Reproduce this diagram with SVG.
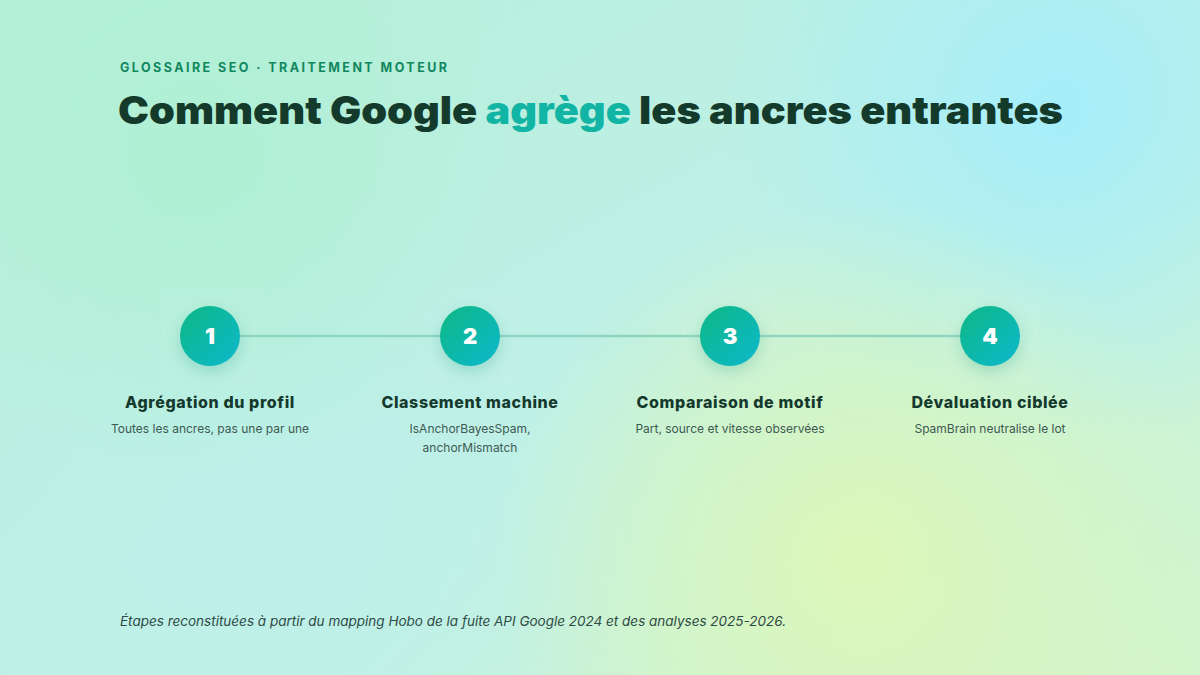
<svg xmlns="http://www.w3.org/2000/svg" width="1200" height="675" viewBox="0 0 1200 675">
<defs>
<linearGradient id="bg" x1="0" y1="0" x2="1" y2="1">
<stop offset="0" stop-color="#b4efd9"/>
<stop offset="0.5" stop-color="#bff0e6"/>
<stop offset="1" stop-color="#d4f5cc"/>
</linearGradient>
<radialGradient id="blobC" cx="1060" cy="110" r="340" gradientUnits="userSpaceOnUse">
<stop offset="0" stop-color="#a6eefa" stop-opacity="1"/>
<stop offset="1" stop-color="#a6eefa" stop-opacity="0"/>
</radialGradient>
<radialGradient id="blobY" cx="860" cy="560" r="360" gradientUnits="userSpaceOnUse">
<stop offset="0" stop-color="#dcf7b8" stop-opacity="1"/>
<stop offset="1" stop-color="#dcf7b8" stop-opacity="0"/>
</radialGradient>
<radialGradient id="blobG" cx="200" cy="160" r="320" gradientUnits="userSpaceOnUse">
<stop offset="0" stop-color="#b0f0d4" stop-opacity="1"/>
<stop offset="1" stop-color="#b0f0d4" stop-opacity="0"/>
</radialGradient>
<radialGradient id="blobL" cx="300" cy="560" r="380" gradientUnits="userSpaceOnUse">
<stop offset="0" stop-color="#bdf0ea" stop-opacity="1"/>
<stop offset="1" stop-color="#bdf0ea" stop-opacity="0"/>
</radialGradient>
<linearGradient id="disc" x1="0" y1="0" x2="1" y2="1">
<stop offset="0" stop-color="#10b883"/>
<stop offset="1" stop-color="#0cb8ce"/>
</linearGradient>
<filter id="shadow" x="-80%" y="-80%" width="260%" height="260%">
<feGaussianBlur in="SourceAlpha" stdDeviation="8"/>
<feOffset dy="6" result="b"/>
<feFlood flood-color="#0f8a6a" flood-opacity="0.22"/>
<feComposite in2="b" operator="in"/>
<feMerge><feMergeNode/><feMergeNode in="SourceGraphic"/></feMerge>
</filter>
<style>
.eyebrow{font-family:"Inter","Liberation Sans",sans-serif;font-weight:700;font-size:12.5px;letter-spacing:2.45px;fill:#11875e}
.title{font-family:"Inter","Liberation Sans",sans-serif;font-weight:900;font-size:38px;fill:#143a2c}
.accent{fill:#12b5a4}
.num{font-family:"Inter","Liberation Sans",sans-serif;font-weight:900;font-size:22px;fill:#ffffff;text-anchor:middle}
.st{font-family:"Inter","Liberation Sans",sans-serif;font-weight:800;font-size:16px;letter-spacing:0.6px;fill:#153a2d;text-anchor:middle}
.sd{font-family:"Inter","Liberation Sans",sans-serif;font-size:12px;fill:#3e5a52;text-anchor:middle}
.foot{font-family:"Inter","Liberation Sans",sans-serif;font-style:italic;font-size:13.5px;fill:#2f4b45}
.soft{fill:#ffffff;fill-opacity:0.04}
</style>
</defs>
<rect width="1200" height="675" fill="url(#bg)"/>
<rect width="1200" height="675" fill="url(#blobL)"/>
<rect width="1200" height="675" fill="url(#blobG)"/>
<rect width="1200" height="675" fill="url(#blobC)"/>
<rect width="1200" height="675" fill="url(#blobY)"/>

<text class="eyebrow" x="120" y="72">GLOSSAIRE SEO · TRAITEMENT MOTEUR</text>
<text class="title" x="118" y="124" textLength="945" lengthAdjust="spacingAndGlyphs">Comment Google <tspan class="accent">agrège</tspan> les ancres entrantes</text>

<g id="connectors">
<line x1="240" y1="336" x2="960" y2="336" stroke="#8fd6bf" stroke-width="2.5"/>
</g>

<g id="step1">
<rect class="soft" x="162" y="290" width="96" height="96"/>
<circle cx="210" cy="336" r="30" fill="url(#disc)" filter="url(#shadow)"/>
<text class="num" x="210" y="344">1</text>
<text class="st" x="210" y="408">Agrégation du profil</text>
<text class="sd" x="210" y="433">Toutes les ancres, pas une par une</text>
</g>
<g id="step2">
<rect class="soft" x="422" y="290" width="96" height="96"/>
<circle cx="470" cy="336" r="30" fill="url(#disc)" filter="url(#shadow)"/>
<text class="num" x="470" y="344">2</text>
<text class="st" x="470" y="408">Classement machine</text>
<text class="sd" x="470" y="433">IsAnchorBayesSpam,</text>
<text class="sd" x="470" y="452">anchorMismatch</text>
</g>
<g id="step3">
<rect class="soft" x="682" y="290" width="96" height="96"/>
<circle cx="730" cy="336" r="30" fill="url(#disc)" filter="url(#shadow)"/>
<text class="num" x="730" y="344">3</text>
<text class="st" x="730" y="408">Comparaison de motif</text>
<text class="sd" x="730" y="433">Part, source et vitesse observées</text>
</g>
<g id="step4">
<rect class="soft" x="942" y="290" width="96" height="96"/>
<circle cx="990" cy="336" r="30" fill="url(#disc)" filter="url(#shadow)"/>
<text class="num" x="990" y="344">4</text>
<text class="st" x="990" y="408">Dévaluation ciblée</text>
<text class="sd" x="990" y="433">SpamBrain neutralise le lot</text>
</g>

<text class="foot" x="120" y="626">Étapes reconstituées à partir du mapping Hobo de la fuite API Google 2024 et des analyses 2025-2026.</text>
</svg>
